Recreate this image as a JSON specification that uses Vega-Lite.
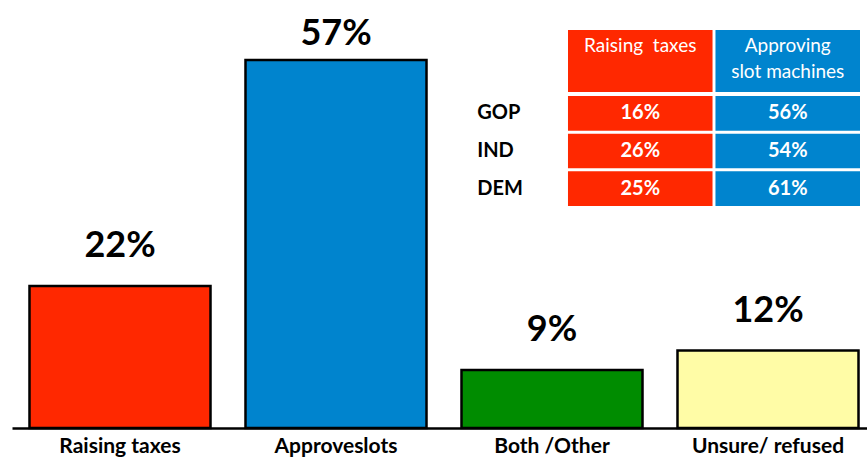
{
  "$schema": "https://vega.github.io/schema/vega-lite/v6.json",
  "width": 867,
  "height": 428,
  "autosize": "none",
  "padding": {"left": 0, "top": 0, "right": 0, "bottom": 29},
  "background": "white",
  "config": {"view": {"stroke": null}, "font": "Lato"},
  "datasets": {
    "bars": [
      {"category": "Raising taxes", "pct": 22, "label": "22%"},
      {"category": "Approveslots", "pct": 57, "label": "57%"},
      {"category": "Both /Other", "pct": 9, "label": "9%"},
      {"category": "Unsure/ refused", "pct": 12, "label": "12%"}
    ],
    "header": [
      {"row": "header", "column": "Raising taxes", "title": "Raising\u00a0 taxes"},
      {"row": "header", "column": "Approving slot machines", "title": "Approving\nslot machines"}
    ],
    "table": [
      {"party": "GOP", "column": "Raising taxes", "value": "16%"},
      {"party": "GOP", "column": "Approving slot machines", "value": "56%"},
      {"party": "IND", "column": "Raising taxes", "value": "26%"},
      {"party": "IND", "column": "Approving slot machines", "value": "54%"},
      {"party": "DEM", "column": "Raising taxes", "value": "25%"},
      {"party": "DEM", "column": "Approving slot machines", "value": "61%"}
    ]
  },
  "layer": [
    {
      "data": {"name": "bars"},
      "encoding": {
        "x": {
          "field": "category", "type": "nominal", "sort": null,
          "scale": {"range": [12, 876], "paddingInner": 0.162, "paddingOuter": 0.081},
          "axis": {
            "title": null, "labelAngle": 0, "ticks": false,
            "domainColor": "black", "domainWidth": 2.5,
            "labelFont": "Lato", "labelFontSize": 21, "labelFontWeight": "bold",
            "labelColor": "black", "labelPadding": 7
          }
        },
        "y": {
          "field": "pct", "type": "quantitative",
          "scale": {"domain": [0, 66.3], "nice": false},
          "axis": null
        }
      },
      "layer": [
        {
          "mark": {"type": "bar", "stroke": "black", "strokeWidth": 2.5},
          "encoding": {
            "color": {
              "field": "category", "type": "nominal",
              "scale": {
                "domain": ["Raising taxes", "Approveslots", "Both /Other", "Unsure/ refused"],
                "range": ["#FF2800", "#0084CE", "#008C00", "#FFFCA6"]
              },
              "legend": null
            }
          }
        },
        {
          "transform": [{"filter": "datum.pct < 50"}],
          "mark": {"type": "text", "baseline": "alphabetic", "dy": -29, "fontSize": 36, "fontWeight": "bold", "font": "Lato", "color": "black"},
          "encoding": {"text": {"field": "label", "type": "nominal"}}
        },
        {
          "transform": [{"filter": "datum.pct >= 50"}],
          "mark": {"type": "text", "baseline": "alphabetic", "dy": -15, "fontSize": 36, "fontWeight": "bold", "font": "Lato", "color": "black"},
          "encoding": {"text": {"field": "label", "type": "nominal"}}
        }
      ]
    },
    {
      "data": {"name": "header"},
      "encoding": {
        "x": {
          "field": "column", "type": "nominal", "sort": null,
          "scale": {"domain": ["Raising taxes", "Approving slot machines"], "range": [568, 860], "paddingInner": 0.02, "paddingOuter": 0},
          "axis": null
        },
        "y": {
          "field": "row", "type": "nominal",
          "scale": {"domain": ["header"], "range": [30, 92], "paddingInner": 0, "paddingOuter": 0},
          "axis": null
        }
      },
      "layer": [
        {
          "mark": {"type": "rect"},
          "encoding": {
            "color": {
              "field": "column", "type": "nominal",
              "scale": {"domain": ["Raising taxes", "Approving slot machines"], "range": ["#FF2800", "#0084CE"]},
              "legend": null
            }
          }
        },
        {
          "mark": {"type": "text", "color": "white", "fontSize": 19, "font": "Lato", "baseline": "top", "align": "center", "dy": 7, "lineBreak": "\n", "lineHeight": 26},
          "encoding": {
            "y": {"field": "row", "type": "nominal", "bandPosition": 0},
            "text": {"field": "title", "type": "nominal"}
          }
        }
      ]
    },
    {
      "data": {"name": "table"},
      "encoding": {
        "x": {
          "field": "column", "type": "nominal", "sort": null,
          "scale": {"domain": ["party", "Raising taxes", "Approving slot machines"], "range": [420.5, 860], "paddingInner": 0.02, "paddingOuter": 0},
          "axis": null
        },
        "y": {
          "field": "party", "type": "nominal", "sort": null,
          "scale": {"domain": ["GOP", "IND", "DEM"], "range": [94.5, 207.5], "paddingInner": 0.08, "paddingOuter": 0.04},
          "axis": null
        }
      },
      "layer": [
        {
          "mark": {"type": "rect"},
          "encoding": {
            "color": {
              "field": "column", "type": "nominal",
              "scale": {"domain": ["Raising taxes", "Approving slot machines"], "range": ["#FF2800", "#0084CE"]},
              "legend": null
            }
          }
        },
        {
          "mark": {"type": "text", "color": "white", "fontSize": 20, "fontWeight": "bold", "font": "Lato", "baseline": "middle", "align": "center"},
          "encoding": {"text": {"field": "value", "type": "nominal"}}
        },
        {
          "transform": [{"filter": "datum.column == 'Raising taxes'"}],
          "mark": {"type": "text", "color": "black", "fontSize": 20, "fontWeight": "bold", "font": "Lato", "baseline": "middle", "align": "left", "dx": -15.5},
          "encoding": {
            "x": {"datum": "party"},
            "text": {"field": "party", "type": "nominal"}
          }
        }
      ]
    }
  ],
  "resolve": {"scale": {"x": "independent", "y": "independent", "color": "independent"}}
}
